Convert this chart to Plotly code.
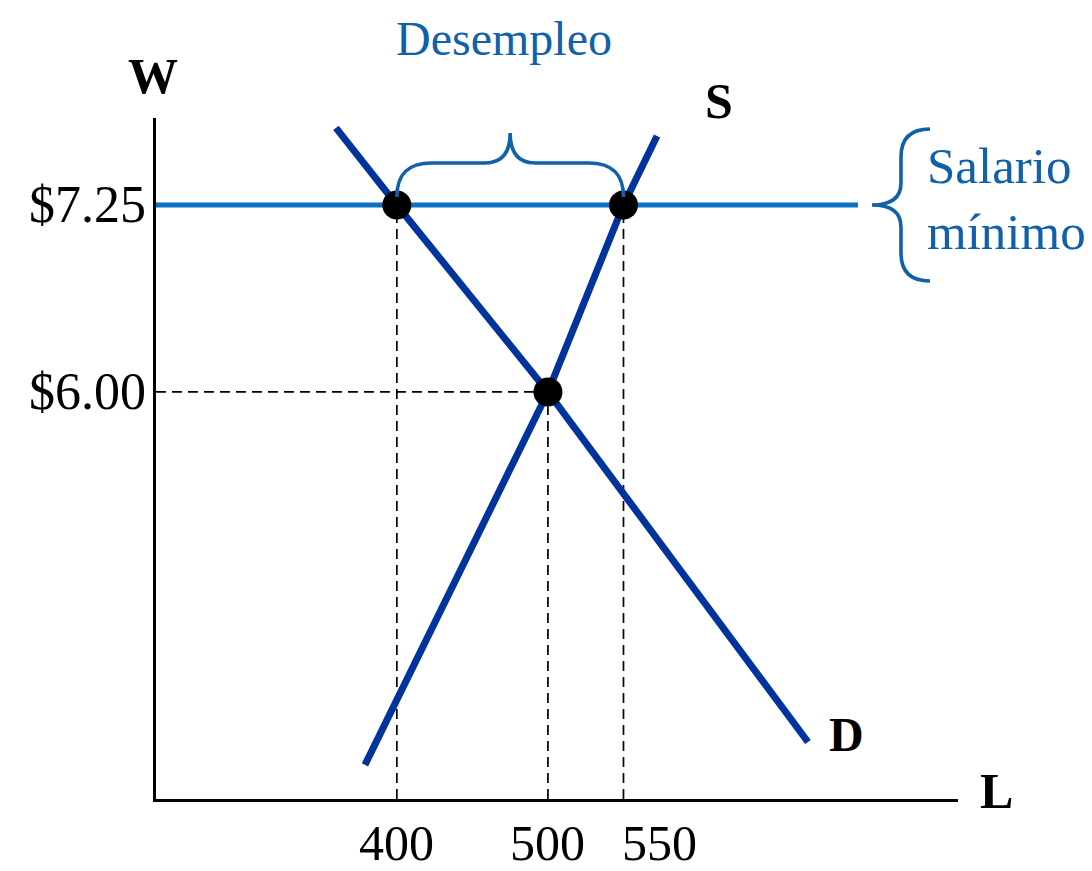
import plotly.graph_objects as go

# ---------------- data ----------------
wage_labels = ["$6.00", "$7.25"]
wage_values = [6.00, 7.25]
quantity_labels = ["400", "500", "550"]
quantity_values = [400, 500, 550]

min_wage = 7.25
eq_wage = 6.00
eq_quantity = 500
demand_at_min = 400
supply_at_min = 550

demand_L = [359.7, 400, 500, 672.1]
demand_W = [7.765, 7.25, 6.00, 3.66]
supply_L = [378.9, 500, 550, 572.2]
supply_W = [3.507, 6.00, 7.25, 7.711]
min_wage_line_end_L = 705.2

dot_L = [demand_at_min, eq_quantity, supply_at_min]
dot_W = [min_wage, eq_wage, min_wage]

# ---------------- layout constants (reference pixel frame) ----------------
W, H = 1092, 871
OFF = 8                      # page body margin of the html document
PLOT_L, PLOT_R, PLOT_T, PLOT_B = 156, 958, 118, 799
PW, PH = PLOT_R - PLOT_L, PLOT_B - PLOT_T
X_RANGE = [240.6, 771.4]
Y_RANGE = [3.279, 7.8315]

FONT = "Liberation Serif"
DARK_BLUE = "#00349c"
WAGE_BLUE = "#0b72c1"
TEXT_BLUE = "#1160aa"


def xpx(x):
    return PLOT_L + (x - X_RANGE[0]) / (X_RANGE[1] - X_RANGE[0]) * PW


def ypx(y):
    return PLOT_T + (Y_RANGE[1] - y) / (Y_RANGE[1] - Y_RANGE[0]) * PH


def xdat(px):
    return X_RANGE[0] + (px - PLOT_L) / PW * (X_RANGE[1] - X_RANGE[0])


def ydat(py):
    return Y_RANGE[1] - (py - PLOT_T) / PH * (Y_RANGE[1] - Y_RANGE[0])


def paper(px, py):
    return (px - PLOT_L) / PW, (PLOT_B - py) / PH


def path_from_px(cmds):
    out = []
    for c in cmds:
        letter, pts = c[0], c[1:]
        s = letter + " " + " ".join(f"{xdat(p[0]):.4f},{ydat(p[1]):.5f}" for p in pts)
        out.append(s)
    return " ".join(out)


fig = go.Figure()

# dashed guide lines
dash_x = [demand_at_min, demand_at_min, None,
          supply_at_min, supply_at_min, None,
          eq_quantity, eq_quantity, None,
          X_RANGE[0], eq_quantity]
dash_y = [Y_RANGE[0], min_wage, None,
          Y_RANGE[0], min_wage, None,
          Y_RANGE[0], eq_wage, None,
          eq_wage, eq_wage]
fig.add_trace(go.Scatter(x=dash_x, y=dash_y, mode="lines",
                         line=dict(color="black", width=1.7, dash="10px,6px"),
                         hoverinfo="skip", showlegend=False))

# demand and supply
fig.add_trace(go.Scatter(x=demand_L, y=demand_W, mode="lines",
                         line=dict(color=DARK_BLUE, width=7), showlegend=False))
fig.add_trace(go.Scatter(x=supply_L, y=supply_W, mode="lines",
                         line=dict(color=DARK_BLUE, width=7), showlegend=False))

# minimum wage line
fig.add_trace(go.Scatter(x=[X_RANGE[0], min_wage_line_end_L], y=[min_wage, min_wage],
                         mode="lines", line=dict(color=WAGE_BLUE, width=5),
                         showlegend=False))

# dots
fig.add_trace(go.Scatter(x=dot_L, y=dot_W, mode="markers",
                         marker=dict(color="black", size=29), showlegend=False))

# braces
xl, xr, y0 = xpx(demand_at_min), xpx(supply_at_min), ypx(min_wage)
xm = (xl + xr) / 2
top_brace = path_from_px([
    ("M", (xl, y0 - 8)),
    ("C", (xl, y0 - 30), (xl + 10, y0 - 42), (xl + 35, y0 - 42)),
    ("L", (xm - 25, y0 - 42)),
    ("C", (xm - 8, y0 - 42), (xm, y0 - 52), (xm, y0 - 72)),
    ("C", (xm, y0 - 52), (xm + 8, y0 - 42), (xm + 25, y0 - 42)),
    ("L", (xr - 35, y0 - 42)),
    ("C", (xr - 10, y0 - 42), (xr, y0 - 30), (xr, y0 - 8)),
])
xc = xpx(min_wage_line_end_L) + 14
right_brace = path_from_px([
    ("M", (xc + 58, y0 - 76)),
    ("C", (xc + 38, y0 - 76), (xc + 29, y0 - 66), (xc + 29, y0 - 48)),
    ("L", (xc + 29, y0 - 22)),
    ("C", (xc + 29, y0 - 8), (xc + 20, y0), (xc, y0)),
    ("C", (xc + 20, y0), (xc + 29, y0 + 8), (xc + 29, y0 + 22)),
    ("L", (xc + 29, y0 + 48)),
    ("C", (xc + 29, y0 + 66), (xc + 38, y0 + 76), (xc + 58, y0 + 76)),
])
for p in (top_brace, right_brace):
    fig.add_shape(type="path", path=p, xref="x", yref="y", layer="above",
                  line=dict(color=TEXT_BLUE, width=3.6))

annotations = []

# y labels
for lab, val in zip(wage_labels, wage_values):
    annotations.append(dict(x=0, xref="paper", y=val, yref="y", text=lab,
                            xanchor="right", yanchor="middle", xshift=-8,
                            showarrow=False,
                            font=dict(family=FONT, size=52, color="black")))

# x labels
for lab, val in zip(quantity_labels, quantity_values):
    anchor = "left" if val == supply_at_min else "center"
    shift = -3 if anchor == "left" else 0
    annotations.append(dict(x=val, xref="x", y=paper(0, 843)[1], yref="paper",
                            text=lab, xanchor=anchor, yanchor="middle", xshift=shift,
                            showarrow=False,
                            font=dict(family=FONT, size=50, color="black")))


def text_at(px, py, text, size, color, bold=False, xanchor="center", align="center"):
    px_, py_ = paper(px, py)
    annotations.append(dict(x=px_, y=py_, xref="paper", yref="paper",
                            text=f"<b>{text}</b>" if bold else text,
                            xanchor=xanchor, yanchor="middle", align=align,
                            showarrow=False,
                            font=dict(family=FONT, size=size, color=color)))


text_at(153, 76, "W", 50, "black", bold=True)
text_at(719, 101, "S", 50, "black", bold=True)
text_at(846, 734, "D", 48, "black", bold=True)
text_at(996, 791, "L", 50, "black", bold=True)
text_at(504, 39, "Desempleo", 48, TEXT_BLUE)
text_at(925, 199, "Salario<br>mínimo", 51, TEXT_BLUE, xanchor="left", align="left")

fig.update_layout(
    width=W - OFF, height=H - OFF,
    margin=dict(l=PLOT_L - OFF, r=W - PLOT_R, t=PLOT_T - OFF, b=H - PLOT_B, pad=0),
    paper_bgcolor="white", plot_bgcolor="white",
    showlegend=False,
    annotations=annotations,
    xaxis=dict(range=X_RANGE, showgrid=False, zeroline=False, showticklabels=False,
               ticks="", showline=True, linecolor="black", linewidth=2.5),
    yaxis=dict(range=Y_RANGE, showgrid=False, zeroline=False, showticklabels=False,
               ticks="", showline=True, linecolor="black", linewidth=2.5),
)

fig.write_html("out.html", config={"displayModeBar": False})
